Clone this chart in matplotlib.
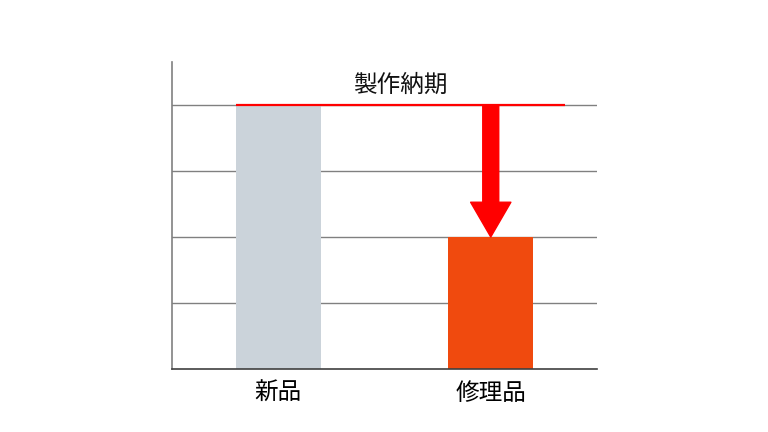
import matplotlib.pyplot as plt
from matplotlib.patches import FancyArrowPatch

plt.rcParams['font.family'] = ['Noto Sans CJK JP', 'DejaVu Sans']

# データ
categories = ['新品', '修理品']
lead_times = [4, 2]
title_text = '製作納期'

bar_colors = ['#CBD3DA', '#F04A0E']

fig = plt.figure(figsize=(7.68, 4.32), dpi=100)
ax = fig.add_axes([172 / 768, 1 - 369 / 432, 425 / 768, 307 / 432])

x = list(range(len(categories)))
ax.bar(x, lead_times, width=0.4, color=bar_colors, zorder=2)

# 軸の設定
ax.set_xlim(-0.5, 1.5)
ax.set_ylim(0, 4.65)
ax.set_yticks([1, 2, 3, 4])
ax.set_yticklabels([])
ax.set_xticks(x)
ax.set_xticklabels(categories, fontsize=17)
ax.tick_params(axis='both', length=0, pad=9)
ax.grid(axis='y', color='#808080', linewidth=1, zorder=0)
for side in ['top', 'right']:
    ax.spines[side].set_visible(False)
ax.spines['left'].set_color('#808080')
ax.spines['left'].set_linewidth(1.2)
ax.spines['bottom'].set_color('#404040')
ax.spines['bottom'].set_linewidth(1.2)

# 新品の納期ライン
line_start = x[0] - 0.2
line_end = 1.35
ax.plot([line_start, line_end], [lead_times[0], lead_times[0]],
        color='#FF0000', linewidth=1.6, zorder=3, solid_capstyle='butt')
ax.text((line_start + line_end) / 2, lead_times[0] + 0.13, title_text,
        ha='center', va='bottom', fontsize=17, color='#111111')

# 短縮を示す矢印
arrow = FancyArrowPatch((x[1], lead_times[0]), (x[1], lead_times[1]),
                        arrowstyle='simple,head_length=25,head_width=29,tail_width=11.5',
                        mutation_scale=1, color='#FF0000', shrinkA=0, shrinkB=0,
                        zorder=4)
ax.add_patch(arrow)

plt.savefig('out.png', dpi=100)
